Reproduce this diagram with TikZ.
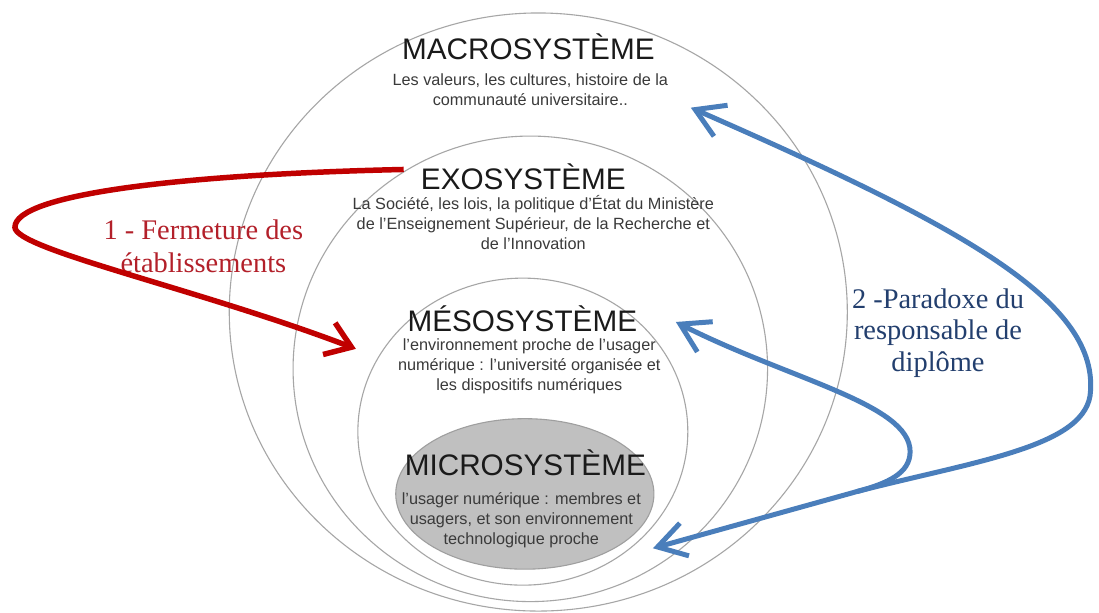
\documentclass[tikz,border=0pt]{standalone}
\usepackage{fontspec}
\setmainfont{Liberation Sans}
\newfontfamily\labelfont{Liberation Serif}
\usetikzlibrary{arrows.meta,shapes.geometric}

\definecolor{ringgray}{HTML}{A6A6A6}
\definecolor{microfill}{HTML}{C0C0C0}
\definecolor{fermred}{HTML}{C00000}
\definecolor{labelred}{HTML}{B3202A}
\definecolor{paradblue}{HTML}{4A7EBB}
\definecolor{labelblue}{HTML}{233F6E}
\definecolor{titletext}{HTML}{1A1A1A}
\definecolor{bodytext}{HTML}{3A3A3A}

\tikzset{
    ring/.style={ellipse, draw=ringgray, line width=1.1pt, inner sep=0pt},
    systitle/.style={anchor=base, text=titletext, font=\fontsize{29.8}{32}\selectfont},
    systext/.style={anchor=base, text=bodytext, align=center, font=\fontsize{16.3}{20}\selectfont},
    arrowlabel/.style={anchor=base, align=center, font=\labelfont\fontsize{28.5}{33}\selectfont},
    fermarrow/.style={draw=fermred, line width=5.5pt, -{Straight Barb[length=24pt,width=34pt]}},
    paradarrow/.style={draw=paradblue, line width=5pt, line cap=round},
    paradtip/.tip={Straight Barb[length=28pt,width=34pt]},
}

\begin{document}
\begin{tikzpicture}[x=1pt, y=-1pt]
    \path[fill=white] (0,0) rectangle (1099,614);
    \foreach \ringname/\cx/\cy/\w/\h in {macro/540/313/620/600, exo/532/370/476/467, meso/524.5/433/331/308}
        \node[ring, minimum width=\w pt, minimum height=\h pt] (\ringname) at (\cx,\cy) {};
    \node[ring, fill=microfill, draw=gray!75, minimum width=259pt, minimum height=151pt] (micro) at (526.5,495.5) {};

    \node[systitle] (macrotitle) at (530,60) {MACROSYSTÈME};
    \node[systext] (macrotext) at (532,106) {Les valeurs, les cultures, histoire de la\\communauté universitaire..};
    \node[systitle] (exotitle) at (525,190) {EXOSYSTÈME};
    \node[systext] (exotext) at (535,250) {La Société, les lois, la politique d'État du Ministère\\de l'Enseignement Supérieur, de la Recherche et\\de l'Innovation};
    \node[systitle] (mesotitle) at (524,333) {MÉSOSYSTÈME};
    \node[systext] (mesotext) at (531,392) {l'environnement proche de l'usager\\numérique : l'université organisée et\\les dispositifs numériques};
    \node[systitle] (microtitle) at (527,477) {MICROSYSTÈME};
    \node[systext] (microtext) at (523,546) {l'usager numérique : membres et\\usagers, et son environnement\\technologique proche};

    \node[arrowlabel, text=labelred] (fermlabel) at (204,273) {1 - Fermeture des\\établissements};
    \node[arrowlabel, text=labelblue, font=\labelfont\fontsize{28.5}{32}\selectfont] (paradlabel) at (941,373) {2 -Paradoxe du\\responsable de\\diplôme};

    \coordinate (fermstart) at (405,170);
    \coordinate (fermtip) at (357,350);
    \coordinate (macrotip) at (693,108);
    \coordinate (mesotip) at (678,323);
    \coordinate (microtip) at (655,550);
    \coordinate (merge) at (860,493);

    \draw[fermarrow] (fermstart)
        .. controls (180,175) and (15,195) .. (15,228)
        .. controls (15,250) and (200,290) .. (fermtip);
    \draw[paradarrow, {paradtip}-{paradtip}] (macrotip)
        .. controls (960,225) and (1100,300) .. (1094,392)
        .. controls (1092,448) and (980,462) .. (merge) -- (microtip);
    \draw[paradarrow, {paradtip}-] (mesotip)
        .. controls (790,380) and (913,405) .. (913,453)
        .. controls (913,475) and (890,485) .. (merge);
\end{tikzpicture}
\end{document}
